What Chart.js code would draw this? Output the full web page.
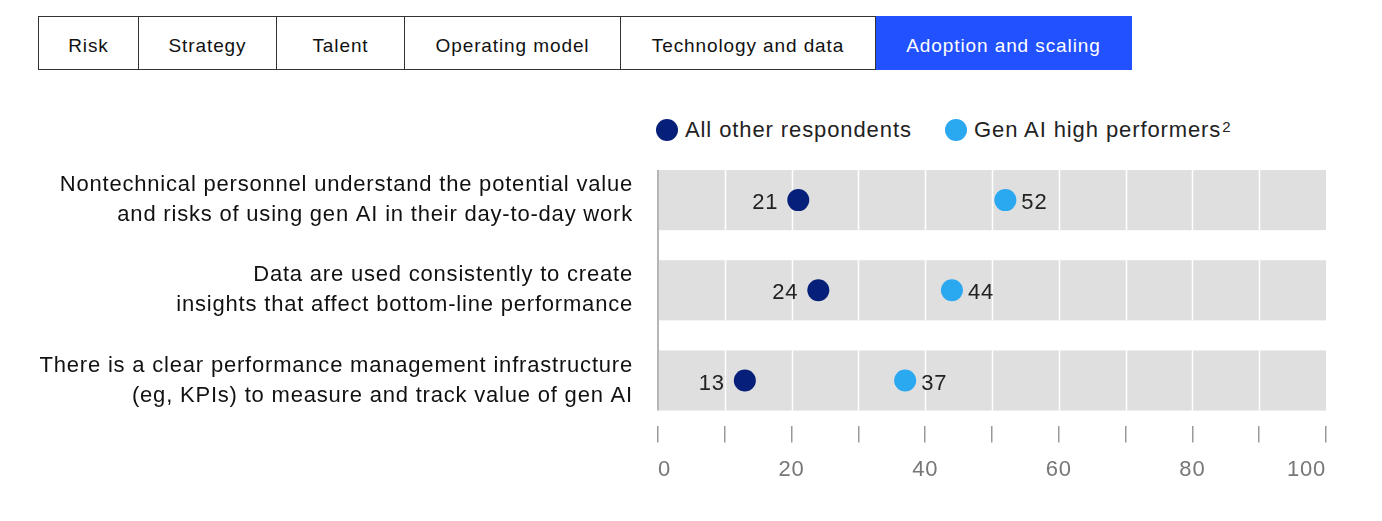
<!DOCTYPE html>
<html>
<head>
<meta charset="utf-8">
<script src="https://cdn.jsdelivr.net/npm/chart.js@4.4.0/dist/chart.umd.min.js"></script>
<style>
  body { margin: 0; width: 1382px; height: 521px; background: #fff; position: relative; overflow: hidden;
         font-family: "Liberation Sans", Arial, sans-serif; }
  .tabs { position: absolute; left: 38px; top: 16px; height: 54px; display: flex; }
  .tab { box-sizing: border-box; height: 54px; padding-top: 6px; border: 1px solid #333; border-left: none;
         display: flex; align-items: center; justify-content: center; font-size: 19px; letter-spacing: 0.9px; color: #111; }
  .tab:first-child { border-left: 1px solid #333; }
  .tab.on { background: #2251ff; color: #fff; border-color: #2251ff; }
  .legend { position: absolute; top: 117px; font-size: 22px; letter-spacing: 0.9px; color: #222; display: flex; align-items: center; }
  .legend i { display: inline-block; width: 22px; height: 22px; border-radius: 50%; margin-right: 7px; }
  .legend sup { font-size: 15px; position: relative; top: -4px; margin-left: 1px; }
  #chart { position: absolute; left: 0; top: 0; }
</style>
</head>
<body>
<div class="tabs">
  <div class="tab" style="width:101px">Risk</div>
  <div class="tab" style="width:138px">Strategy</div>
  <div class="tab" style="width:128px">Talent</div>
  <div class="tab" style="width:216px">Operating model</div>
  <div class="tab" style="width:255px">Technology and data</div>
  <div class="tab on" style="width:256px">Adoption and scaling</div>
</div>
<div class="legend" style="left:656px"><i style="background:#06207a"></i>All other respondents</div>
<div class="legend" style="left:945px"><i style="background:#2aa8f0"></i>Gen AI high performers<sup>2</sup></div>
<canvas id="chart" width="1382" height="521"></canvas>
<script>
// categories, one array of lines per row
var categories = [
    ['Nontechnical personnel understand the potential value', 'and risks of using gen AI in their day-to-day work'],
    ['Data are used consistently to create', 'insights that affect bottom-line performance'],
    ['There is a clear performance management infrastructure', '(eg, KPIs) to measure and track value of gen AI']
];
var otherRespondents = [21, 24, 13];
var highPerformers = [52, 44, 37];
var tickLabels = [0, 20, 40, 60, 80, 100];

var NAVY = '#06207a';
var SKY = '#2aa8f0';

// the reference type is set a little loose, so widen canvas text too
var spacing = {
    id: 'spacing',
    beforeDraw: function (chart) { chart.ctx.letterSpacing = '0.8px'; }
};

// gray bands behind each row, white grid lines inside them, left rule
var bandPlugin = {
    id: 'bands',
    beforeDatasetsDraw: function (chart) {
        var ctx = chart.ctx;
        var x = chart.scales.x;
        var y = chart.scales.y;
        var half = (y.getPixelForValue(1) - y.getPixelForValue(0)) / 3;
        ctx.save();
        categories.forEach(function (c, i) {
            var cy = y.getPixelForValue(i);
            ctx.fillStyle = '#dfdfdf';
            ctx.fillRect(x.left, cy - half, x.right - x.left, half * 2);
            ctx.strokeStyle = '#ffffff';
            ctx.lineWidth = 1.5;
            x.ticks.forEach(function (t) {
                if (t.value <= 0 || t.value >= 100) return;
                var px = Math.round(x.getPixelForValue(t.value)) + 0.5;
                ctx.beginPath();
                ctx.moveTo(px, cy - half);
                ctx.lineTo(px, cy + half);
                ctx.stroke();
            });
        });
        var top = y.getPixelForValue(0) - half;
        var bottom = y.getPixelForValue(categories.length - 1) + half;
        ctx.strokeStyle = '#b5b5b5';
        ctx.lineWidth = 2;
        ctx.beginPath();
        ctx.moveTo(x.left, top);
        ctx.lineTo(x.left, bottom);
        ctx.stroke();
        ctx.restore();
    }
};

// value labels: left of navy dots, right of light-blue dots
var valueLabels = {
    id: 'valueLabels',
    afterDatasetsDraw: function (chart) {
        var ctx = chart.ctx;
        ctx.save();
        ctx.font = '22px "Liberation Sans", Arial, sans-serif';
        ctx.fillStyle = '#222';
        ctx.textBaseline = 'middle';
        chart.data.datasets.forEach(function (ds, di) {
            chart.getDatasetMeta(di).data.forEach(function (pt, i) {
                if (di === 0) {
                    ctx.textAlign = 'right';
                    ctx.fillText(ds.data[i], pt.x - 20, pt.y + 3);
                } else {
                    ctx.textAlign = 'left';
                    ctx.fillText(ds.data[i], pt.x + 16, pt.y + 3);
                }
            });
        });
        ctx.restore();
    }
};

new Chart(document.getElementById('chart').getContext('2d'), {
    type: 'line',
    data: {
        labels: categories,
        datasets: [
            {
                label: 'All other respondents',
                data: otherRespondents,
                showLine: false,
                pointRadius: 11,
                pointHoverRadius: 11,
                pointBackgroundColor: NAVY,
                pointBorderWidth: 0
            },
            {
                label: 'Gen AI high performers',
                data: highPerformers,
                showLine: false,
                pointRadius: 11,
                pointHoverRadius: 11,
                pointBackgroundColor: SKY,
                pointBorderWidth: 0
            }
        ]
    },
    options: {
        indexAxis: 'y',
        responsive: false,
        animation: false,
        events: [],
        layout: { padding: { top: 155, bottom: 24, right: 56, left: 0 } },
        plugins: { legend: { display: false }, tooltip: { enabled: false } },
        scales: {
            x: {
                type: 'linear',
                min: 0,
                max: 100,
                border: { display: false },
                grid: { drawOnChartArea: false, drawTicks: true, tickLength: 17, color: '#999', lineWidth: 1.5 },
                ticks: {
                    stepSize: 10,
                    align: 'inner',
                    padding: 14,
                    color: '#777',
                    font: { family: '"Liberation Sans", Arial, sans-serif', size: 22 },
                    callback: function (v) { return tickLabels.indexOf(v) >= 0 ? v : ''; }
                }
            },
            y: {
                type: 'category',
                offset: true,
                border: { display: false },
                grid: { display: false, drawTicks: false },
                afterFit: function (s) { s.width = 658; },
                ticks: {
                    crossAlign: 'near',
                    padding: 25,
                    color: '#111',
                    font: { family: '"Liberation Sans", Arial, sans-serif', size: 22, lineHeight: '30px' }
                }
            }
        }
    },
    plugins: [spacing, bandPlugin, valueLabels]
});
</script>
</body>
</html>
